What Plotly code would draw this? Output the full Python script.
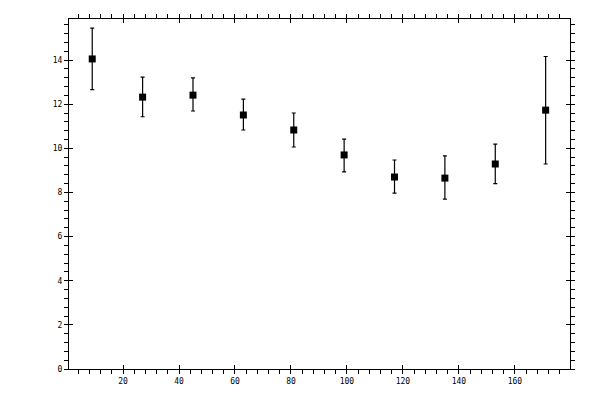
import plotly.graph_objects as go

# bin centres (degrees) and measured values with asymmetric errors
angle = [9, 27, 45, 63, 81, 99, 117, 135, 153, 171]
value = [14.05, 12.32, 12.41, 11.51, 10.83, 9.70, 8.70, 8.65, 9.29, 11.73]
err_hi = [15.45, 13.23, 13.19, 12.23, 11.60, 10.42, 9.47, 9.66, 10.19, 14.16]
err_lo = [12.66, 11.43, 11.69, 10.83, 10.06, 8.93, 7.97, 7.70, 8.40, 9.29]

x_range = [0.7, 179.7]
y_range = [0, 15.86]

plus = [h - v for h, v in zip(err_hi, value)]
minus = [v - l for v, l in zip(value, err_lo)]

fig = go.Figure()
fig.add_trace(go.Scatter(
    x=angle, y=value, mode="markers",
    marker=dict(symbol="square", size=7, color="black"),
    error_y=dict(type="data", symmetric=False, array=plus, arrayminus=minus,
                 color="black", thickness=1.2, width=2),
    showlegend=False,
))
# empty trace so the overlay axes (inner half of the crossing ticks) get drawn
fig.add_trace(go.Scatter(x=[], y=[], xaxis="x2", yaxis="y2", showlegend=False))

tfont = dict(family="DejaVu Sans Mono", size=8, color="black")
common = dict(showline=True, linecolor="black", linewidth=1, mirror="ticks",
              showgrid=False, zeroline=False, tickcolor="black", tickwidth=1)

fig.update_layout(
    width=600, height=400,
    margin=dict(l=69, r=30, t=19, b=31),
    paper_bgcolor="white", plot_bgcolor="white",
    xaxis=dict(range=x_range, tick0=0, dtick=20, ticks="outside", ticklen=4,
               minor=dict(dtick=4, tick0=0, ticks="outside", ticklen=4,
                          tickcolor="black", showgrid=False),
               tickfont=tfont, **common),
    yaxis=dict(range=y_range, tick0=0, dtick=2, ticks="outside", ticklen=4,
               minor=dict(dtick=0.4, tick0=0, ticks="outside", ticklen=4,
                          tickcolor="black", showgrid=False),
               tickfont=tfont, **common),
    xaxis2=dict(range=x_range, overlaying="x", tick0=0, dtick=20, ticks="inside",
                ticklen=4, showticklabels=False, **common),
    yaxis2=dict(range=y_range, overlaying="y", tick0=0, dtick=2, ticks="inside",
                ticklen=4, showticklabels=False, **common),
)

# drop the default 8px body margin so the 600x400 figure fills the window
fig.write_html("out.html", config={"displayModeBar": False},
               post_script="document.body.style.margin='0';")
